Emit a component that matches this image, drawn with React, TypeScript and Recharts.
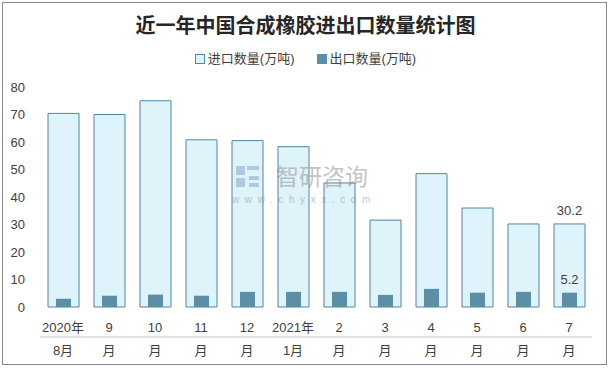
import React from 'react';
import { BarChart, Bar, XAxis, YAxis, LabelList } from 'recharts';

const months = ['2020年|8月', '9|月', '10|月', '11|月', '12|月', '2021年|1月', '2|月', '3|月', '4|月', '5|月', '6|月', '7|月'];
const importVol = [70.4, 70.0, 75.0, 60.8, 60.5, 58.3, 45.1, 31.6, 48.5, 36.0, 30.2, 30.2];
const exportVol = [3.0, 4.1, 4.5, 4.1, 5.5, 5.5, 5.5, 4.4, 6.6, 5.2, 5.5, 5.2];
const yTicks = [0, 10, 20, 30, 40, 50, 60, 70, 80];
const title = '近一年中国合成橡胶进出口数量统计图';
const importName = '进口数量(万吨)';
const exportName = '出口数量(万吨)';

const data = months.map((m, i) => ({ month: m, imp: importVol[i], exp: exportVol[i] }));

const FONT = '"Liberation Sans", Arial, "Noto Sans CJK SC", sans-serif';
const IMP_FILL = '#dff3fa';
const IMP_STROKE = '#4f86a3';
const EXP_FILL = '#5b8fa6';
const TEXT = '#404040';

const MonthTick = (props: any) => {
  const { x, y, payload } = props;
  const [a, b] = String(payload.value).split('|');
  return (
    <text x={x} y={y} textAnchor="middle" fill={TEXT} fontSize={13} fontFamily={FONT}>
      <tspan x={x} dy={-5}>{a}</tspan>
      <tspan x={x} dy={23}>{b}</tspan>
    </text>
  );
};

const lastLabel = (offset: number) => (props: any) => {
  const { x, y, width, value, index } = props;
  if (index !== months.length - 1) return null;
  return (
    <text x={Number(x) + Number(width) / 2} y={Number(y) - offset} textAnchor="middle" fill={TEXT} fontSize={13} fontFamily={FONT}>
      {value}
    </text>
  );
};

export default function App() {
  return (
    <div style={{ position: 'relative', width: 611, height: 369, background: '#fff', fontFamily: FONT }}>
      <style>{`body{margin:0}`}</style>
      <div style={{ position: 'absolute', left: 2, top: 2, width: 603, height: 361, border: '1px solid #898989' }} />
      <div style={{ position: 'absolute', left: 0, top: 12, width: 611, textAlign: 'center', fontSize: 20, fontWeight: 'bold', color: '#262626', fontFamily: '"Noto Sans CJK SC", sans-serif', lineHeight: '26px' }}>
        {title}
      </div>
      <div style={{ position: 'absolute', left: 0, top: 50, width: 611, display: 'flex', justifyContent: 'center', alignItems: 'center', fontSize: 13, color: TEXT, lineHeight: '18px' }}>
        <span style={{ display: 'inline-block', width: 8, height: 8, background: IMP_FILL, border: `1px solid ${IMP_STROKE}`, marginRight: 3 }} />
        <span>{importName}</span>
        <span style={{ display: 'inline-block', width: 10, height: 10, background: EXP_FILL, marginLeft: 22, marginRight: 3 }} />
        <span>{exportName}</span>
      </div>
      <div style={{ position: 'absolute', left: 0, top: 0 }}>
        <BarChart width={611} height={369} data={data} margin={{ top: 87, right: 19, bottom: 12, left: 0 }}>
          <XAxis xAxisId="imp" dataKey="month" height={50} tickSize={0} tickMargin={0} interval={0}
            axisLine={{ stroke: '#d9d9d9', strokeWidth: 1.5 }} tickLine={false} tick={<MonthTick />} />
          <XAxis xAxisId="exp" dataKey="month" hide />
          <YAxis width={40} domain={[0, 80]} ticks={yTicks} axisLine={false} tickLine={false} tickSize={0} tickMargin={15}
            tick={{ fill: TEXT, fontSize: 13, fontFamily: FONT }} />
          <Bar xAxisId="imp" dataKey="imp" name={importName} barSize={31} fill={IMP_FILL} stroke={IMP_STROKE} strokeWidth={1} isAnimationActive={false}>
            <LabelList dataKey="imp" content={lastLabel(9)} />
          </Bar>
          <Bar xAxisId="exp" dataKey="exp" name={exportName} barSize={15} fill={EXP_FILL} isAnimationActive={false}>
            <LabelList dataKey="exp" content={lastLabel(9)} />
          </Bar>
        </BarChart>
      </div>
      <svg style={{ position: 'absolute', left: 0, top: 0, pointerEvents: 'none' }} width={611} height={369}>
        <g opacity={0.5}>
          <rect x={236} y={166} width={9} height={9} fill="#7fa3c8" />
          <rect x={247} y={166} width={12} height={4} fill="#7fa3c8" />
          <rect x={236} y={178} width={9} height={9} fill="#7fa3c8" />
          <rect x={249} y={176} width={10} height={4} fill="#7fa3c8" />
          <rect x={249} y={183} width={10} height={4} fill="#7fa3c8" />
          <text x={322} y={185} textAnchor="middle" fontSize={23} fill="#8a8a8a" fontFamily='"Noto Sans CJK SC", sans-serif'>智研咨询</text>
          <text x={304} y={203} textAnchor="middle" fontSize={10} fill="#8a8a8a" letterSpacing={5.6} fontFamily={FONT}>www.chyxx.com</text>
        </g>
      </svg>
    </div>
  );
}
